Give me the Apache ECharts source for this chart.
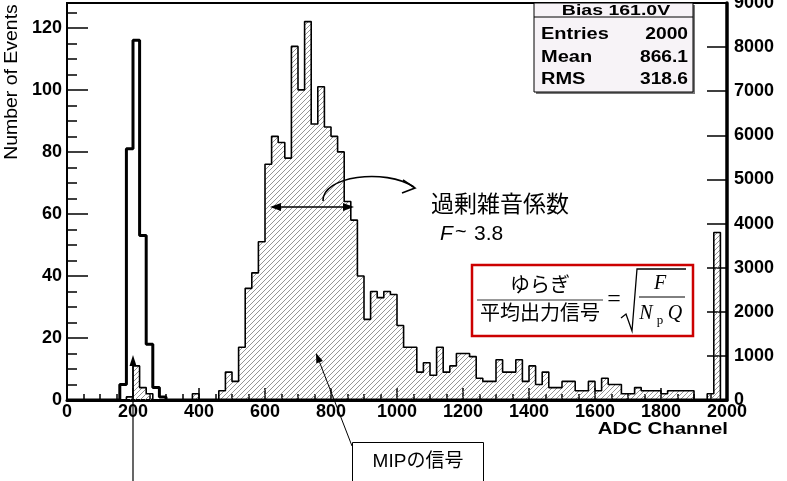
<!DOCTYPE html>
<html><head><meta charset="utf-8">
<script src="https://cdn.jsdelivr.net/npm/echarts@6.0.0/dist/echarts.min.js"></script>
<style>html,body{margin:0;padding:0;background:#fff}#c{width:787px;height:481px}</style>
</head><body><div id="c"></div>
<script>
// ---- data (histogram, 20-channel bins from 0 to 2000) ----
const binStart = 0;
const binWidth = 20;
const mipCounts = [
  0,0,0,0,0,0,0,0,0,1,
  11,4,2,0,0,0,0,0,0,2,
  0,0,0,3,9,6,17,36,41,51,
  76,85,83,78,114,100,122,89,101,88,
  85,80,64,58,40,26,35,33,35,34,
  24,17,17,9,12,8,17,9,11,15,
  15,14,7,6,6,13,9,9,13,6,
  11,5,9,4,4,6,6,3,3,6,
  3,7,5,5,2,2,4,3,3,3,
  2,3,3,3,3,0,0,2,54,0
];
const pedestalCounts = [
  0,0,0,0,0,0,0,0,5,81,
  116,53,18,4,1,0,0,0,0,0,
  0,0,0,0,0,0,0,0,0,0,
  0,0,0,0,0,0,0,0,0,0,
  0,0,0,0,0,0,0,0,0,0,
  0,0,0,0,0,0,0,0,0,0,
  0,0,0,0,0,0,0,0,0,0,
  0,0,0,0,0,0,0,0,0,0,
  0,0,0,0,0,0,0,0,0,0,
  0,0,0,0,0,0,0,0,0,0
];
const statLabels = ['Entries', 'Mean', 'RMS'];
const statValues = ['2000', '866.1', '318.6'];
const statTitle = 'Bias 161.0V';

function stepData(counts) {
  const d = counts.map((c, i) => [binStart + i * binWidth, c]);
  d.push([binStart + counts.length * binWidth, 0]);
  return d;
}

// hatch pattern
const hatch = document.createElement('canvas');
hatch.width = 5; hatch.height = 5;
const g = hatch.getContext('2d');
g.strokeStyle = '#7a7a7a'; g.lineWidth = 0.8;
g.beginPath();
g.moveTo(-1, 6); g.lineTo(6, -1);
g.moveTo(-1, 1); g.lineTo(1, -1);
g.moveTo(4, 6); g.lineTo(6, 4);
g.stroke();

const LAT = '"Liberation Sans", Arial, sans-serif';
const JP = '"Liberation Sans", "Noto Sans CJK JP", sans-serif';
const SERIF = '"Liberation Serif", "Times New Roman", serif';
const plain = v => String(v);
const lblStyle = {color: '#000', fontSize: 18, fontWeight: 'bold', fontFamily: LAT, formatter: plain};

const graphics = [];
function txt(x, y, text, font, align, vAlign, extra) {
  graphics.push(Object.assign({type: 'text', x: x, y: y, z: 100,
    style: {text: text, font: font, fill: '#000', align: align, verticalAlign: vAlign,
            textAlign: align, textVerticalAlign: vAlign}}, extra || {}));
}
function line(x1, y1, x2, y2, w, color) {
  graphics.push({type: 'line', z: 100, shape: {x1, y1, x2, y2}, style: {stroke: color || '#000', lineWidth: w}});
}
function poly(points, fill) {
  graphics.push({type: 'polygon', z: 100, shape: {points}, style: {fill: fill || '#000'}});
}

// stats box
graphics.push({type: 'rect', z: 99, shape: {x: 536, y: 5, width: 159, height: 89}, style: {fill: '#777'}});
graphics.push({type: 'rect', z: 99, shape: {x: 534, y: 3, width: 159, height: 89}, style: {fill: '#f7f3f7', stroke: '#000', lineWidth: 1}});
line(534, 17, 693, 17, 1);
txt(616, 11, statTitle, 'bold 15px ' + LAT, 'center', 'middle', {scaleX: 1.3});
const rowY = [35, 57.5, 80];
statLabels.forEach((l, i) => {
  txt(541, rowY[i], l, 'bold 16px ' + LAT, 'left', 'middle', {scaleX: 1.25});
  txt(688, rowY[i], statValues[i], 'bold 16px ' + LAT, 'right', 'middle', {scaleX: 1.2});
});

// axis titles
txt(12, 82, 'Number of Events', '18px ' + LAT, 'center', 'middle', {rotation: Math.PI / 2, scaleX: 1.08});
txt(728, 429, 'ADC Channel', 'bold 17px ' + LAT, 'right', 'middle', {scaleX: 1.2});

// FWHM arrow
line(276, 207, 348, 207, 1.6);
poly([[270, 207], [281, 203], [281, 211]]);
poly([[354, 207], [343, 203], [343, 211]]);
// curved arrow
graphics.push({type: 'bezierCurve', z: 100,
  shape: {x1: 323, y1: 201, x2: 414, y2: 187, cpx1: 322, cpy1: 176, cpx2: 385, cpy2: 168},
  style: {stroke: '#000', lineWidth: 1.6, fill: null}});
graphics.push({type: 'polyline', z: 100, shape: {points: [[403, 180], [415, 188], [402, 193]]},
  style: {stroke: '#000', lineWidth: 1.6, fill: null}});
txt(431, 206, '過剰雑音係数', '23px ' + JP, 'left', 'middle');
txt(440, 234, 'F', 'italic 21px ' + LAT, 'left', 'middle');
txt(455, 232, '~', '20px ' + LAT, 'left', 'middle');
txt(474, 234, '3.8', '21px ' + LAT, 'left', 'middle');

// formula box
graphics.push({type: 'rect', z: 99, shape: {x: 472, y: 265, width: 221, height: 71},
  style: {fill: '#fff', stroke: '#cc0000', lineWidth: 2.5}});
line(477, 300, 603, 300, 1, '#333');
txt(540, 286, 'ゆらぎ', '20px ' + JP, 'center', 'middle');
txt(540, 314, '平均出力信号', '20px ' + JP, 'center', 'middle');
txt(614, 300, '=', '24px ' + SERIF, 'center', 'middle');
graphics.push({type: 'polyline', z: 100, shape: {points: [[621, 318], [626, 314], [632, 331], [637, 269], [686, 269]]},
  style: {stroke: '#000', lineWidth: 1.3, fill: null}});
line(639, 297, 685, 297, 1);
txt(660, 284, 'F', 'italic 20px ' + SERIF, 'center', 'middle');
txt(646, 314, 'N', 'italic 20px ' + SERIF, 'center', 'middle');
txt(660, 321, 'p', '13px ' + SERIF, 'center', 'middle');
txt(675, 314, 'Q', 'italic 20px ' + SERIF, 'center', 'middle');

// MIP arrow & box
line(352, 446, 319.6, 362.3, 1);
poly([[316, 353], [322.9, 361.0], [316.3, 363.6]]);
graphics.push({type: 'rect', z: 99, shape: {x: 352.5, y: 442.5, width: 131, height: 45},
  style: {fill: '#fff', stroke: '#000', lineWidth: 1}});
txt(418, 462, 'MIPの信号', '19px ' + JP, 'center', 'middle');

// pedestal arrow
line(133, 481, 133, 364, 1.2);
poly([[133, 355], [129.5, 366], [136.5, 366]]);

const chart = echarts.init(document.getElementById('c'), null, {renderer: 'canvas'});
chart.setOption({
  animation: false,
  backgroundColor: '#fff',
  grid: {left: 67, right: 60, top: 3, bottom: 81, containLabel: false, outerBoundsMode: 'none',
         show: true, borderColor: '#000', borderWidth: 2, backgroundColor: 'transparent'},
  xAxis: {
    type: 'value', min: 0, max: 2000, interval: 200,
    axisLine: {show: true, onZero: false, lineStyle: {color: '#000', width: 3}},
    axisTick: {show: true, inside: true, length: 12, lineStyle: {color: '#000', width: 1.5}},
    minorTick: {show: true, splitNumber: 4, length: 6, lineStyle: {color: '#000', width: 1.5}},
    splitLine: {show: false},
    axisLabel: Object.assign({margin: 3}, lblStyle)
  },
  yAxis: [
    {type: 'value', min: 0, max: 128, interval: 20, position: 'left',
     axisLine: {show: true, lineStyle: {color: '#000', width: 2}},
     axisTick: {show: true, inside: true, length: 21, lineStyle: {color: '#000', width: 1.5}},
     axisLabel: Object.assign({margin: 5, showMaxLabel: false}, lblStyle),
     splitLine: {show: false}},
    {type: 'value', min: 0, max: 128, interval: 5, position: 'left',
     axisLine: {show: false},
     axisTick: {show: true, inside: true, length: 10, lineStyle: {color: '#000', width: 1.5}},
     axisLabel: {show: false}, splitLine: {show: false}},
    {type: 'value', min: 0, max: 9000, interval: 1000, position: 'right',
     axisLine: {show: true, lineStyle: {color: '#000', width: 3.5}},
     axisTick: {show: true, inside: true, length: 20, lineStyle: {color: '#000', width: 1.5}},
     axisLabel: Object.assign({margin: 7}, lblStyle),
     splitLine: {show: false}}
  ],
  series: [
    {type: 'line', step: 'end', data: stepData(mipCounts), symbol: 'none', yAxisIndex: 0,
     lineStyle: {color: '#000', width: 1.6},
     areaStyle: {color: {image: hatch, repeat: 'repeat'}, opacity: 1}, z: 2},
    {type: 'line', step: 'end', data: stepData(pedestalCounts), symbol: 'none', yAxisIndex: 0,
     lineStyle: {color: '#000', width: 3}, z: 3}
  ],
  graphic: graphics
});
</script>
</body></html>
